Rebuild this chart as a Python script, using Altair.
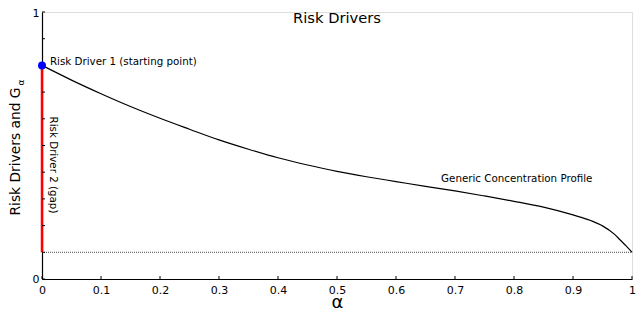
import altair as alt
import pandas as pd

# Concentration profile G_alpha
alpha = [0.0, 0.05, 0.1, 0.15, 0.2, 0.25, 0.3, 0.35, 0.4, 0.45, 0.5, 0.55, 0.6,
         0.65, 0.7, 0.75, 0.8, 0.85, 0.9, 0.93, 0.95, 0.97, 0.98, 0.99, 1.0]
g_alpha = [0.800, 0.745, 0.694, 0.646, 0.602, 0.561, 0.521, 0.486, 0.454, 0.427,
           0.403, 0.383, 0.365, 0.347, 0.330, 0.311, 0.291, 0.269, 0.240, 0.219,
           0.199, 0.168, 0.146, 0.124, 0.100]

start_point = 0.80      # Risk Driver 1 (starting point)
floor_level = 0.10      # bottom of the gap / dotted reference line
tick_values = [0.0, 0.1, 0.2, 0.3, 0.4, 0.5, 0.6, 0.7, 0.8, 0.9, 1.0]

FONT = "DejaVu Sans"
W, H = 590, 267

curve_df = pd.DataFrame({"alpha": alpha, "g": g_alpha})
floor_df = pd.DataFrame({"alpha": [0.0], "alpha2": [1.0], "g": [floor_level]})
gap_df = pd.DataFrame({"alpha": [0.0], "g": [floor_level], "g2": [start_point]})
point_df = pd.DataFrame({"alpha": [0.0], "g": [start_point]})
ticks_df = pd.DataFrame({"v": tick_values})

xs = alt.Scale(domain=[0, 1], nice=False, zero=False)
ys = alt.Scale(domain=[0, 1], nice=False, zero=False)

x_axis = alt.Axis(values=tick_values, format="~g", ticks=False, grid=False,
                  domainColor="black", domainWidth=1.2, labelFont=FONT,
                  labelFontSize=11, labelColor="black", labelPadding=5,
                  labelAngle=0, title="α", titleFont=FONT, titleFontSize=18,
                  titleFontWeight="normal", titleColor="black",
                  titleBaseline="alphabetic", titleY=28, labelFlush=False)
y_axis = alt.Axis(values=[0, 1], format="~g", ticks=False, grid=False,
                  domainColor="black", domainWidth=1.2, labelFont=FONT,
                  labelFontSize=11, labelColor="black", labelPadding=3,
                  labelOffset={"condition": {"test": "datum.value == 1", "value": 1.5},
                               "value": 0},
                  title="Risk Drivers and G", titleFont=FONT, titleFontSize=13.8,
                  titleFontWeight="normal", titleColor="black", titleAngle=270,
                  titleBaseline="alphabetic", titleAlign="center",
                  titleX=-23, titleY=139, labelFlush=False)

floor = alt.Chart(floor_df).mark_rule(color="#444444", strokeDash=[1, 1],
                                      strokeWidth=1).encode(
    x=alt.X("alpha:Q", scale=xs, axis=x_axis),
    x2="alpha2:Q",
    y=alt.Y("g:Q", scale=ys, axis=y_axis),
)

curve = alt.Chart(curve_df).mark_line(color="black", strokeWidth=1.2,
                                      interpolate="monotone").encode(
    x=alt.X("alpha:Q", scale=xs), y=alt.Y("g:Q", scale=ys))

gap = alt.Chart(gap_df).mark_rule(color="#ff0000", strokeWidth=2.5).encode(
    x=alt.X("alpha:Q", scale=xs), y=alt.Y("g:Q", scale=ys), y2="g2:Q")

xticks = alt.Chart(ticks_df).mark_rule(color="black", strokeWidth=1).encode(
    x=alt.X("v:Q", scale=xs), y=alt.value(H), y2=alt.value(H - 3))
yticks = alt.Chart(ticks_df).mark_rule(color="black", strokeWidth=1).encode(
    y=alt.Y("v:Q", scale=ys), x=alt.value(0), x2=alt.value(3))

point = alt.Chart(point_df).mark_point(filled=True, color="#0000ff", size=64,
                                       opacity=1).encode(
    x=alt.X("alpha:Q", scale=xs), y=alt.Y("g:Q", scale=ys))

title_df = pd.DataFrame({"alpha": [0.5], "g": [0.959], "label": ["Risk Drivers"]})
title = alt.Chart(title_df).mark_text(
    font=FONT, fontSize=14.7, color="black", align="center", baseline="alphabetic"
).encode(x=alt.X("alpha:Q", scale=xs), y=alt.Y("g:Q", scale=ys), text="label:N")

lab1_df = pd.DataFrame({"alpha": [0.0134], "g": [0.801],
                        "label": ["Risk Driver 1 (starting point)"]})
lab1 = alt.Chart(lab1_df).mark_text(
    font=FONT, fontSize=10.3, color="black", align="left", baseline="alphabetic"
).encode(x=alt.X("alpha:Q", scale=xs), y=alt.Y("g:Q", scale=ys), text="label:N")

lab2_df = pd.DataFrame({"alpha": [0.8047], "g": [0.3745],
                        "label": ["Generic Concentration Profile"]})
lab2 = alt.Chart(lab2_df).mark_text(
    font=FONT, fontSize=10.3, color="black", align="center", baseline="middle"
).encode(x=alt.X("alpha:Q", scale=xs), y=alt.Y("g:Q", scale=ys), text="label:N")

gap_label_df = pd.DataFrame({"alpha": [0.018], "g": [0.427],
                             "label": ["Risk Driver 2 (gap)"]})
lab3 = alt.Chart(gap_label_df).mark_text(
    font=FONT, fontSize=10.3, color="black", align="center", baseline="middle",
    angle=90
).encode(x=alt.X("alpha:Q", scale=xs), y=alt.Y("g:Q", scale=ys), text="label:N")

sub_df = pd.DataFrame({"label": ["α"]})
sub = alt.Chart(sub_df).mark_text(
    font=FONT, fontSize=9, color="black", align="center", baseline="alphabetic",
    angle=270
).encode(x=alt.value(-18.5), y=alt.value(70.5), text="label:N")

chart = alt.layer(floor, curve, gap, xticks, yticks, point, title, lab1, lab2,
                  lab3, sub).properties(
    width=W, height=H,
    autosize=alt.AutoSizeParams(type="none"),
    padding={"left": 34, "top": 4, "right": 4, "bottom": 31},
).configure_view(stroke=None).configure(background="white")

chart.save("out.html", embed_options={"renderer": "svg", "actions": False})
